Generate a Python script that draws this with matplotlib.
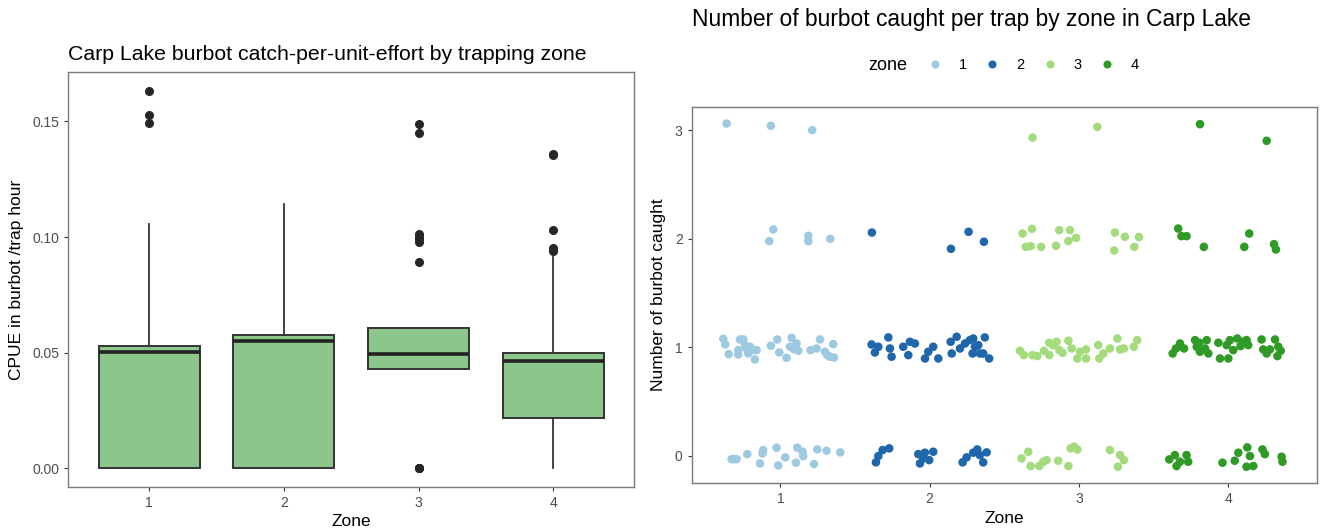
import matplotlib
matplotlib.use("Agg")
import matplotlib.pyplot as plt
from matplotlib.lines import Line2D

plt.rcParams["font.family"] = ["Liberation Sans", "DejaVu Sans"]

# ---- left panel: CPUE box summaries ----
zones = [1, 2, 3, 4]
q1 = [0.0, 0.0, 0.0431, 0.0217]
med = [0.0504, 0.0552, 0.0494, 0.0466]
q3 = [0.0530, 0.0575, 0.0605, 0.0501]
whis_lo = [0.0, 0.0, 0.0428, 0.0]
whis_hi = [0.1057, 0.1145, 0.0605, 0.0915]
outliers = [
    [0.1631, 0.1527, 0.1494],
    [],
    [0.1490, 0.1448, 0.1013, 0.1000, 0.0990, 0.0978, 0.0891, 0.0, 0.0, 0.0],
    [0.1359, 0.1353, 0.1032, 0.0951, 0.0941],
]

# ---- right panel: jittered counts (x = zone + jitter, y = count + jitter) ----
z1_x = [0.639, 0.936, 1.213,
        0.952, 0.925, 1.187, 1.187, 1.334,
        0.617, 0.630, 0.653, 0.717, 0.729, 0.717, 0.751, 0.762, 0.773, 0.796,
        0.813, 0.829, 0.840, 0.784, 0.936, 0.979, 0.992, 1.041, 1.075, 1.064,
        1.090, 1.120, 1.108, 1.202, 1.242, 1.265, 1.298, 1.314, 1.354, 1.359, 1.332,
        0.673, 0.690, 0.706, 0.778, 0.863, 0.880, 0.885, 0.974, 0.985, 1.032,
        1.104, 1.113, 1.149, 1.153, 1.225, 1.247, 1.309, 1.401]
z1_y = [3.060, 3.039, 2.999,
        2.084, 1.977, 2.026, 1.977, 1.998,
        1.077, 1.025, 0.936, 0.973, 1.071, 0.933, 1.071, 1.019, 0.988, 1.004,
        0.973, 0.887, 0.973, 0.942, 1.013, 1.071, 0.951, 0.902, 1.087, 1.004,
        0.982, 0.967, 1.034, 0.973, 0.988, 1.071, 0.958, 0.927, 1.028, 0.905, 0.912,
        -0.031, -0.031, -0.031, 0.015, -0.071, 0.021, 0.052, 0.074, -0.089, -0.015,
        -0.064, 0.074, 0.037, -0.003, -0.077, 0.058, 0.046, 0.031]

z2_x = [1.613, 2.143, 2.261, 2.364,
        1.611, 1.633, 1.656, 1.723, 1.734, 1.745, 1.823, 1.857, 1.868, 1.901,
        1.969, 1.991, 2.024, 2.058, 2.141, 2.148, 2.181, 2.203, 2.237, 2.270,
        2.292, 2.304, 2.288, 2.326, 2.337, 2.370, 2.359, 2.399,
        1.640, 1.656, 1.685, 1.729, 1.935, 1.924, 1.957, 1.997, 2.024, 1.968,
        2.221, 2.248, 2.292, 2.319, 2.337, 2.382, 2.359]
z2_y = [2.056, 1.906, 2.063, 1.971,
        1.025, 0.951, 1.004, 1.090, 0.988, 0.912, 1.004, 0.927, 1.050, 1.034,
        0.896, 0.958, 1.004, 0.896, 1.050, 0.942, 1.096, 0.988, 1.034, 1.065,
        1.080, 1.004, 0.942, 1.019, 0.942, 1.090, 0.942, 0.896,
        -0.061, -0.003, 0.052, 0.068, -0.071, 0.015, -0.025, -0.040, 0.037, 0.028,
        -0.061, -0.015, 0.028, 0.058, 0.006, 0.031, -0.061]

z3_x = [2.690, 3.124,
        2.623, 2.686, 2.645, 2.677, 2.748, 2.847, 2.869, 2.941, 2.930, 2.981,
        3.242, 3.309, 3.403, 3.237, 3.372,
        2.605, 2.632, 2.690, 2.721, 2.766, 2.802, 2.802, 2.828, 2.851, 2.869,
        2.891, 2.930, 2.952, 2.990, 3.008, 3.048, 3.048, 3.130, 3.137, 3.164,
        3.208, 3.258, 3.276, 3.302, 3.369, 3.391,
        2.661, 2.616, 2.677, 2.735, 2.762, 2.784, 2.862, 2.930, 2.945, 2.967,
        2.990, 3.208, 3.276, 3.302, 3.262]
z3_y = [2.931, 3.029,
        2.047, 2.090, 1.924, 1.931, 1.924, 1.934, 2.078, 2.078, 1.977, 2.007,
        2.056, 2.017, 2.014, 1.891, 1.924,
        0.967, 0.927, 0.927, 0.918, 0.967, 0.927, 1.041, 1.019, 1.050, 0.973,
        0.948, 1.059, 0.988, 0.896, 0.958, 0.979, 0.896, 1.019, 0.896, 0.942,
        0.988, 1.080, 0.979, 0.988, 1.004, 1.065,
        0.037, -0.025, -0.095, -0.095, -0.055, -0.040, -0.046, -0.095, 0.068, 0.083,
        0.058, 0.052, 0.006, -0.040, -0.101]

z4_x = [3.812, 4.259,
        3.666, 3.688, 3.722, 3.838, 4.142, 4.109, 4.308, 4.321,
        3.629, 3.651, 3.678, 3.705, 3.779, 3.790, 3.808, 3.812, 3.857, 3.868,
        3.846, 3.935, 3.946, 3.991, 4.002, 4.013, 4.035, 4.062, 4.084, 4.102,
        4.124, 4.135, 4.225, 4.236, 4.259, 4.315, 4.337, 4.353, 4.331, 4.281,
        3.606, 3.644, 3.655, 3.678, 3.722, 3.733, 3.963, 4.045, 4.069, 4.129,
        4.147, 4.124, 4.169, 4.231, 4.247, 4.359, 4.365]
z4_y = [3.054, 2.901,
        2.093, 2.023, 2.023, 1.924, 2.047, 1.924, 1.949, 1.900,
        0.942, 0.988, 1.034, 0.988, 1.065, 1.004, 1.041, 0.958, 1.065, 0.942,
        0.988, 1.041, 0.896, 1.019, 0.896, 1.065, 0.973, 1.080, 1.010, 1.050,
        1.065, 1.019, 1.071, 0.979, 0.942, 1.071, 1.004, 0.967, 0.918, 0.979,
        -0.034, 0.006, -0.095, -0.055, 0.006, -0.055, -0.064, -0.046, 0.028, 0.077,
        -0.003, -0.101, -0.095, 0.058, 0.015, -0.009, -0.055]

zone_colors = ["#9ECAE1", "#1F66AA", "#A4DB7C", "#2F9A25"]
box_fill = "#8CC68A"
ink = "#333333"
frame = "#7A7A7A"
tick_col = "#4D4D4D"


def style_axes(ax):
    for s in ax.spines.values():
        s.set_color(frame)
        s.set_linewidth(1.0)
    ax.tick_params(colors=ink, labelcolor=tick_col, labelsize=10, length=3, width=0.8)


fig = plt.figure(figsize=(13.23, 5.31), dpi=100)

# ---------------- left: boxplot ----------------
ax1 = fig.add_axes([0.0516, 0.0823, 0.4278, 0.7815])
stats = []
for i in range(len(zones)):
    stats.append({"med": med[i], "q1": q1[i], "q3": q3[i],
                  "whislo": whis_lo[i], "whishi": whis_hi[i], "fliers": outliers[i]})
ax1.bxp(stats, positions=zones, widths=0.75, patch_artist=True, showcaps=False,
        boxprops=dict(facecolor=box_fill, edgecolor=ink, linewidth=1.4),
        medianprops=dict(color="#222222", linewidth=2.6),
        whiskerprops=dict(color=ink, linewidth=1.3),
        flierprops=dict(marker="o", markerfacecolor="#262626", markeredgecolor="#262626",
                        markersize=5.5))
ax1.set_xlim(0.4, 4.6)
ax1.set_ylim(-0.00815, 0.1712)
ax1.set_xticks(zones)
ax1.set_xticklabels([str(z) for z in zones])
ax1.set_yticks([0.0, 0.05, 0.10, 0.15])
ax1.set_yticklabels(["0.00", "0.05", "0.10", "0.15"])
style_axes(ax1)
ax1.set_xlabel("Zone", fontsize=12.5, labelpad=3)
ax1.set_ylabel("CPUE in burbot /trap hour", fontsize=12.5, labelpad=6)
ax1.set_title("Carp Lake burbot catch-per-unit-effort by trapping zone",
              fontsize=15.3, loc="left", pad=9)

# ---------------- right: jittered points ----------------
ax2 = fig.add_axes([0.5228, 0.0898, 0.4724, 0.7092])
xs = [z1_x, z2_x, z3_x, z4_x]
ys = [z1_y, z2_y, z3_y, z4_y]
for i in range(len(zones)):
    ax2.scatter(xs[i], ys[i], s=38, color=zone_colors[i], edgecolors="none", zorder=3)
ax2.set_xlim(0.405, 4.594)
ax2.set_ylim(-0.254, 3.215)
ax2.set_xticks(zones)
ax2.set_xticklabels([str(z) for z in zones])
ax2.set_yticks([0, 1, 2, 3])
style_axes(ax2)
ax2.set_xlabel("Zone", fontsize=12.5, labelpad=3)
ax2.set_ylabel("Number of burbot caught", fontsize=12.5, labelpad=6)
ax2.set_title("Number of burbot caught per trap by zone in Carp Lake",
              fontsize=16.4, loc="left", pad=58)

handles = [Line2D([], [], marker="o", linestyle="none", markersize=5.8,
                  markerfacecolor=c, markeredgecolor="none") for c in zone_colors]
fig.legend(handles, [str(z) for z in zones], ncol=4, frameon=False,
           loc="center left", bbox_to_anchor=(0.6925, 0.877), fontsize=10.5,
           handletextpad=1.25, columnspacing=1.32, handlelength=0.8)
fig.text(0.6565, 0.877, "zone", fontsize=13, va="center", ha="left")

fig.savefig("out.png", dpi=100)
